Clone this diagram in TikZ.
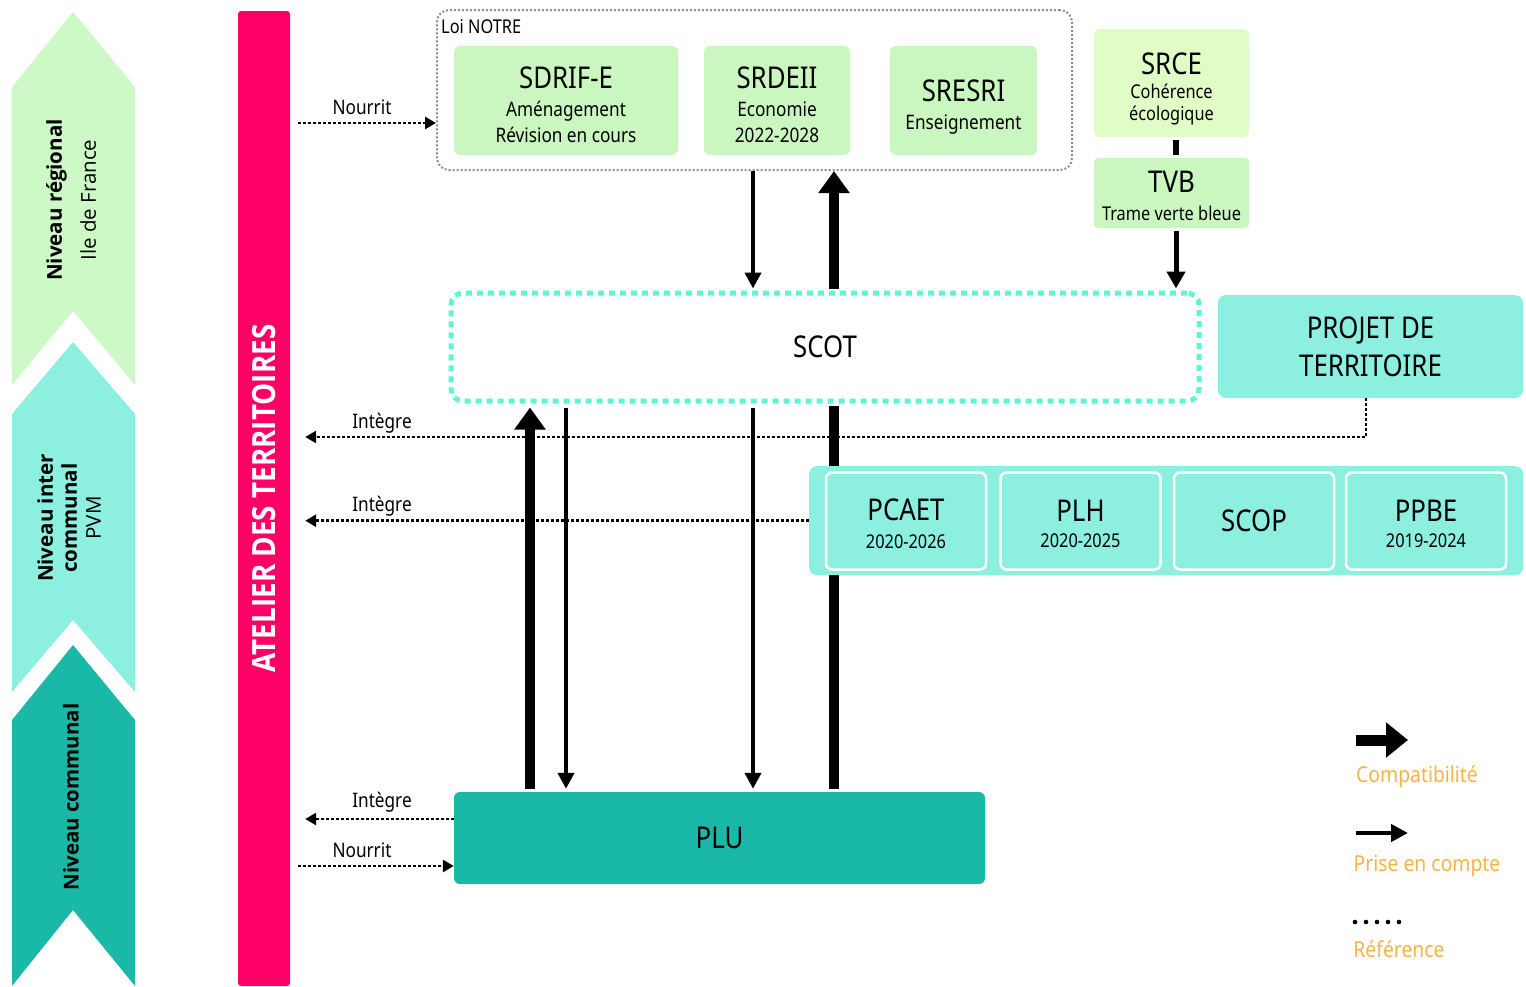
\documentclass[tikz,border=0pt]{standalone}
\usepackage{fontspec}
\setmainfont[FakeStretch=0.86]{Noto Sans}
\newfontfamily\opensans{Open Sans}
\newfontfamily\atfont[FakeStretch=0.87]{Open Sans}
\newfontfamily\legfont[FakeStretch=0.88]{Noto Sans}
\usetikzlibrary{arrows.meta}
\definecolor{cPink}{HTML}{FF0066}
\definecolor{cGreen}{HTML}{C9F7BF}
\definecolor{cChevA}{HTML}{CCF9C5}
\definecolor{cSrce}{HTML}{E1FDC6}
\definecolor{cTeal}{HTML}{8CEFE0}
\definecolor{cDark}{HTML}{1AB8A6}
\definecolor{cScot}{HTML}{5EF5CF}
\definecolor{cOrange}{HTML}{F5B445}
\definecolor{cGrayL}{HTML}{8C8C8C}
\newcommand\bigtxt[1]{{\fontsize{30}{30}\selectfont #1}}
\newcommand\upstrut[1]{\rule{0pt}{#1}}
\tikzset{
  box/.style={rounded corners=6pt, inner sep=0pt, align=center},
  greenbox/.style={box, fill=cGreen},
  thickarrow/.style={line width=10pt, -{Triangle[width=30pt,length=22pt]}},
  thinarrow/.style={line width=4pt, -{Triangle[width=16pt,length=16pt]}},
  refline/.style={line width=2.8pt, dash pattern=on 2.8pt off 2.2pt, -{Triangle[width=12pt,length=11pt]}},
  lbl/.style={font=\fontsize{20}{22}\selectfont, inner sep=0pt},
  leglbl/.style={font=\legfont\fontsize{22}{24}\selectfont, text=cOrange, inner sep=0pt},
}
\begin{document}
\begin{tikzpicture}[x=1pt,y=-1pt]
\useasboundingbox (0,0) rectangle (1526,986);
% level chevrons
\fill[cChevA] (12,87) -- (73,12) -- (135,87) -- (135,385) -- (73,311) -- (12,385) -- cycle;
\fill[cTeal] (12,414) -- (73,342) -- (135,414) -- (135,692) -- (73,620) -- (12,692) -- cycle;
\fill[cDark] (12,720) -- (73,645) -- (135,720) -- (135,986) -- (73,910) -- (12,986) -- cycle;
\node[rotate=90, align=center, font=\opensans\fontsize{20.5}{34}\selectfont] (lvA) at (71,200) {\textbf{Niveau régional}\\Ile de France};
\node[rotate=90, align=center, font=\opensans\fontsize{20.5}{24}\selectfont] (lvB) at (69,518) {\textbf{Niveau inter}\\\textbf{communal}\\PVM};
\node[rotate=90, font=\opensans\bfseries\fontsize{20.5}{24}\selectfont] (lvC) at (71,797) {Niveau communal};
% atelier bar
\node[rotate=90, fill=cPink, rounded corners=3pt, minimum width=975, minimum height=52, inner sep=0pt, text=white, font=\atfont\bfseries\fontsize{32}{32}\selectfont] (atelier) at (264,498.5) {ATELIER DES TERRITOIRES};
\coordinate (aout) at ([xshift=8pt]atelier.south);
\coordinate (ain) at ([xshift=15pt]atelier.south);
% Loi NOTRE group
\node[box, draw=cGrayL, line width=2pt, dash pattern=on 2pt off 2pt, rounded corners=12pt, minimum width=635, minimum height=160, anchor=north west] (loi) at (436,9) {};
\node[anchor=west, font=\fontsize{19}{20}\selectfont, inner sep=0pt] (loilbl) at (441,27) {Loi NOTRE};
\node[greenbox, minimum width=224, minimum height=109, font=\fontsize{20}{26}\selectfont] (sdrif) at (566,100.5) {\upstrut{31pt}\bigtxt{SDRIF-E}\\[2pt]Aménagement\\Révision en cours};
\node[greenbox, minimum width=146, minimum height=109, font=\fontsize{20}{26}\selectfont] (srdeii) at (777,100.5) {\upstrut{30pt}\bigtxt{SRDEII}\\[2pt]Economie\\2022-2028};
\node[greenbox, minimum width=147, minimum height=109, font=\fontsize{20}{28}\selectfont] (sresri) at (963.5,100.5) {\upstrut{34pt}\bigtxt{SRESRI}\\Enseignement};
% SRCE / TVB
\node[box, fill=cSrce, minimum width=155, minimum height=108, font=\fontsize{19}{22}\selectfont] (srce) at (1171.5,83) {\upstrut{34pt}\bigtxt{SRCE}\\[2pt]Cohérence\\écologique};
\node[box, fill=cGreen, rounded corners=4pt, minimum width=155, minimum height=70, font=\fontsize{19}{28}\selectfont] (tvb) at (1171.5,193) {\upstrut{27pt}\bigtxt{TVB}\\Trame verte bleue};
\draw[line width=6pt, shorten <=3pt, shorten >=3pt] (srce.south -| 1176,0) -- (tvb.north -| 1176,0);
% SCOT, PLU, projet
\node[box, draw=cScot, line width=5pt, dash pattern=on 6pt off 5pt, rounded corners=12pt, minimum width=748, minimum height=108, font=\fontsize{30}{30}\selectfont] (scot) at (825,347) {SCOT};
\node[box, fill=cTeal, rounded corners=8pt, minimum width=305, minimum height=103, font=\fontsize{30}{38}\selectfont] (projet) at (1370.5,346.5) {PROJET DE\\TERRITOIRE};
\node[box, fill=cDark, minimum width=531, minimum height=92, font=\fontsize{30}{30}\selectfont] (plu) at (719.5,838) {PLU};
% arrows top
\draw[thinarrow, shorten >=2pt] (loi.south -| 753,0) -- (scot.north -| 753,0);
\draw[thickarrow, shorten <=2pt] (scot.north -| 834,0) -- (loi.south -| 834,0);
\draw[line width=5pt, -{Triangle[width=18pt,length=17pt]}, shorten <=3pt, shorten >=2pt] (tvb.south -| 1176,0) -- (scot.north -| 1176,0);
% arrows bottom
\draw[thickarrow, shorten <=3pt, shorten >=4pt] (plu.north -| 530,0) -- (scot.south -| 530,0);
\draw[thinarrow, shorten <=4pt, shorten >=3pt] (scot.south -| 566,0) -- (plu.north -| 566,0);
\draw[thinarrow, shorten <=4pt, shorten >=3pt] (scot.south -| 753,0) -- (plu.north -| 753,0);
\draw[line width=10pt, shorten <=2pt, shorten >=3pt] (scot.south -| 834,0) -- (plu.north -| 834,0);
% reference lines
\draw[refline] (projet.south -| 1366,0) -- (1366,437) -- (ain |- 0,437);
\node[lbl] (int1) at (382,423) {Intègre};
% group of plans
\node[box, fill=cTeal, rounded corners=8pt, minimum width=714, minimum height=109, anchor=north west] (grp) at (809,466) {};
\draw[refline] (grp.west) -- (ain |- grp.west);
\node[lbl] (int2) at (382,506) {Intègre};
\tikzset{planbox/.style={box, fill=cTeal, draw=white, line width=2.5pt, minimum width=160, minimum height=97, font=\fontsize{19}{26}\selectfont}}
\node[planbox, font=\fontsize{19}{28}\selectfont] (pcaet) at (906,521) {\upstrut{27pt}\bigtxt{PCAET}\\2020-2026};
\node[planbox] (plh) at (1080.5,521) {\upstrut{27pt}\bigtxt{PLH}\\2020-2025};
\node[planbox, font=\fontsize{30}{30}\selectfont] (scop) at (1254,521) {SCOP};
\node[planbox] (ppbe) at (1426,521) {\upstrut{27pt}\bigtxt{PPBE}\\2019-2024};
% PLU reference lines
\draw[refline] (plu.west |- 0,819) -- (ain |- 0,819);
\node[lbl] (int3) at (382,802) {Intègre};
\draw[refline] (aout |- 0,866) -- (plu.west |- 0,866);
\node[lbl] (nour2) at (362,850) {Nourrit};
\draw[refline] (aout |- 0,123) -- (loi.west |- 0,123);
\node[lbl] (nour1) at (362,107) {Nourrit};
% legend
\coordinate (lgA1) at (1356,740);
\coordinate (lgA2) at (1408,740);
\draw[line width=11pt, -{Triangle[width=34pt,length=22pt]}] (lgA1) -- (lgA2);
\node[leglbl] (lgt1) at (1417,777) {Compatibilité};
\coordinate (lgB1) at (1356,833);
\coordinate (lgB2) at (1408,833);
\draw[line width=4.5pt, -{Triangle[width=17pt,length=17pt]}] (lgB1) -- (lgB2);
\node[leglbl] (lgt2) at (1427,866) {Prise en compte};
\foreach \i in {0,...,4} \fill (1355+11*\i,922) circle (2.3pt);
\node[leglbl] (lgt3) at (1399,949) {Référence};
\end{tikzpicture}
\end{document}
